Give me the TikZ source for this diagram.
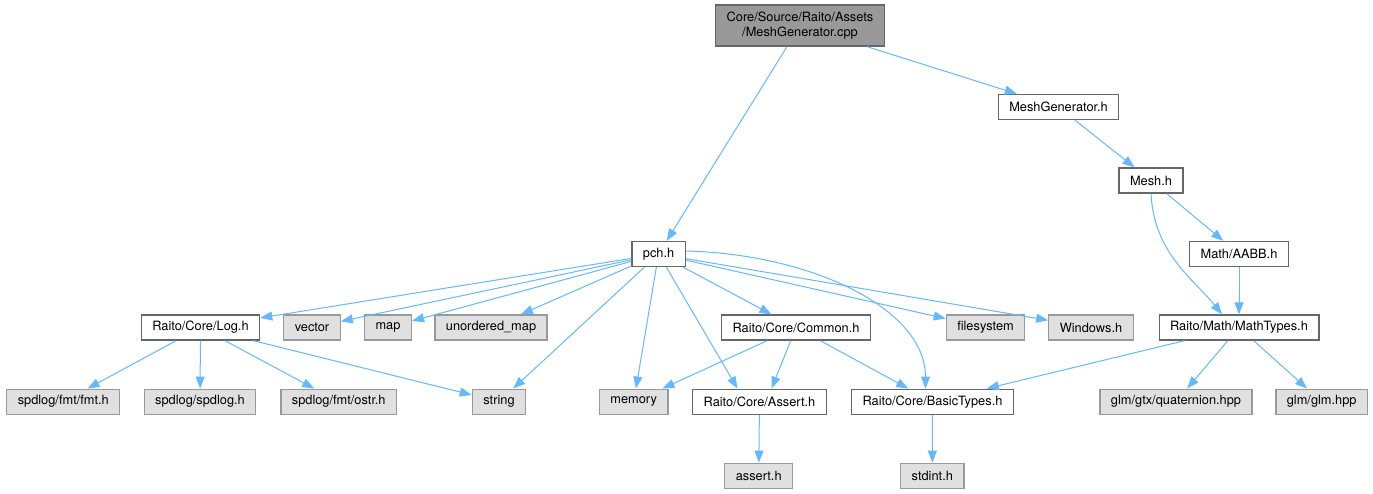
\documentclass[tikz,border=0pt]{standalone}
\usepackage{fontspec}
\setmainfont{TeX Gyre Heros}
\usetikzlibrary{arrows.meta}

\definecolor{edgeblue}{HTML}{63B8FF}
\definecolor{boxgray}{HTML}{E0E0E0}
\definecolor{rimgray}{HTML}{999999}
\definecolor{rimdark}{HTML}{666666}

\begin{document}
\begin{tikzpicture}[x=1pt, y=-1pt,
    >={Triangle[length=12pt,width=9pt]},
    every node/.style={font=\fontsize{12.8}{15.5}\selectfont, inner xsep=11pt, inner ysep=0pt,
        minimum height=25pt, line width=1.3pt},
    srcfile/.style={draw=rimdark, fill=rimgray, align=center, minimum height=41pt},
    hfile/.style={draw=rimdark, fill=white},
    sysfile/.style={draw=rimgray, fill=boxgray},
    dep/.style={->, draw=edgeblue, line width=1pt}]
    \useasboundingbox (0,0) rectangle (1373,493);

    % Source file
    \node[srcfile] (cpp) at (800,25.5) {Core/Source/Raito/Assets\\/MeshGenerator.cpp};

    % Project headers
    \node[hfile] (meshgen) at (1058.5,107) {MeshGenerator.h};
    \node[hfile] (mesh) at (1151,180.5) {Mesh.h};
    \node[hfile] (aabb) at (1239,254) {Math/AABB.h};
    \node[hfile] (pch) at (658.6,254) {pch.h};
    \node[hfile] (logh) at (200.5,327.5) {Raito/Core/Log.h};
    \node[hfile] (common) at (796,327.5) {Raito/Core/Common.h};
    \node[hfile] (mathtypes) at (1239,327.5) {Raito/Math/MathTypes.h};
    \node[hfile] (assertcore) at (759.5,401.7) {Raito/Core/Assert.h};
    \node[hfile] (basictypes) at (932.5,401.7) {Raito/Core/BasicTypes.h};

    % System and library headers
    \node[sysfile] (vector) at (312,327.5) {vector};
    \node[sysfile] (map) at (388,327.5) {map};
    \node[sysfile] (umap) at (491,327.5) {unordered\_map};
    \node[sysfile] (filesystem) at (985.5,327.5) {filesystem};
    \node[sysfile] (windows) at (1091,327.5) {Windows.h};
    \node[sysfile] (fmt) at (63.3,401.7) {spdlog/fmt/fmt.h};
    \node[sysfile] (spdlog) at (200,401.7) {spdlog/spdlog.h};
    \node[sysfile] (ostr) at (338.7,401.7) {spdlog/fmt/ostr.h};
    \node[sysfile] (string) at (499,401.7) {string};
    \node[sysfile] (memory) at (633.7,401.7) {memory};
    \node[sysfile] (quat) at (1176,401.7) {glm/gtx/quaternion.hpp};
    \node[sysfile] (glm) at (1321.7,401.7) {glm/glm.hpp};
    \node[sysfile] (asserth) at (758.7,475.8) {assert.h};
    \node[sysfile] (stdint) at (932.3,475.8) {stdint.h};

    % Includes of the source file
    \draw[dep] (cpp) -- (pch);
    \draw[dep] (cpp) -- (meshgen);

    % Mesh side
    \draw[dep] (meshgen) -- (mesh);
    \draw[dep] (mesh) -- (aabb);
    \draw[dep] (mesh.south) .. controls +(3,60) and +(-28,-35) .. ([xshift=-17pt]mathtypes.north);
    \draw[dep] (aabb) -- (mathtypes);
    \draw[dep] (mathtypes) -- (basictypes);
    \draw[dep] (mathtypes) -- (quat);
    \draw[dep] (mathtypes) -- (glm);

    % Precompiled header
    \draw[dep] (pch) -- (logh);
    \draw[dep] (pch) -- (vector);
    \draw[dep] (pch) -- (map);
    \draw[dep] (pch) -- (umap);
    \draw[dep] (pch) -- (string);
    \draw[dep] (pch) -- (memory);
    \draw[dep] (pch) -- ([xshift=-22pt]assertcore.north);
    \draw[dep] (pch) -- (common);
    \draw[dep] ([yshift=3pt]pch.east) .. controls +(125,3) and +(0,-80) .. ([xshift=-7pt]basictypes.north);
    \draw[dep] (pch) -- (filesystem);
    \draw[dep] (pch) -- (windows);

    % Logging
    \draw[dep] (logh) -- (fmt);
    \draw[dep] (logh) -- (spdlog);
    \draw[dep] (logh) -- (ostr);
    \draw[dep] (logh) -- (string);

    % Common
    \draw[dep] (common) -- (memory);
    \draw[dep] (common) -- ([xshift=12pt]assertcore.north);
    \draw[dep] (common) -- (basictypes);

    % Bottom row
    \draw[dep] (assertcore) -- (asserth);
    \draw[dep] (basictypes) -- (stdint);
\end{tikzpicture}
\end{document}
